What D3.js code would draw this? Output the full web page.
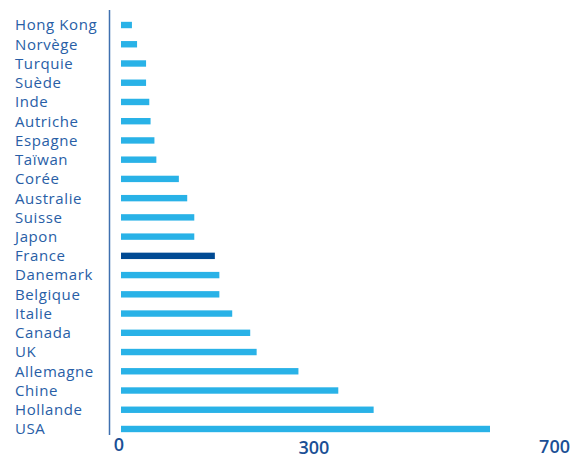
<!DOCTYPE html>
<html>
<head>
<meta charset="utf-8">
<script src="https://cdn.jsdelivr.net/npm/d3@7"></script>
<style>
  html, body { margin: 0; padding: 0; background: #fff; }
  svg { display: block; }
</style>
</head>
<body>
<svg id="chart" width="571" height="459"></svg>
<script>
const countries = ["Hong Kong","Norvège","Turquie","Suède","Inde","Autriche","Espagne","Taïwan","Corée","Australie","Suisse","Japon","France","Danemark","Belgique","Italie","Canada","UK","Allemagne","Chine","Hollande","USA"];
const values = [17, 25, 39, 39, 44, 46, 52, 55, 90, 103, 114, 114, 146, 153, 153, 173, 201, 211, 276, 338, 393, 574];
const highlight = ["France"];
const tickValues = [0, 300, 700];
const tickLabels = ["0", "300", "700"];

const svg = d3.select("#chart");
const x = d3.scaleLinear().domain([0, 700]).range([121, 571]);
const y = d3.scaleBand().domain(countries).range([15.4, 438.6]).paddingInner(0.66).paddingOuter(0.33);

const data = countries.map((c, i) => ({ c, v: values[i] }));

svg.append("g").selectAll("rect").data(data).join("rect")
  .attr("x", x(0))
  .attr("y", d => y(d.c) + y.bandwidth() / 2 - 3.2)
  .attr("width", d => x(d.v) - x(0))
  .attr("height", 6.4)
  .attr("fill", d => highlight.includes(d.c) ? "#004a93" : "#29b2e7");

svg.append("g").selectAll("text").data(data).join("text")
  .attr("x", 15)
  .attr("y", d => y(d.c) + y.bandwidth() / 2)
  .attr("dy", "0.36em")
  .attr("font-family", "'Open Sans', sans-serif")
  .attr("font-size", 15)
  .attr("letter-spacing", 0.6)
  .attr("fill", "#285ea6")
  .text(d => d.c);

svg.append("line")
  .attr("x1", 109.5).attr("x2", 109.5)
  .attr("y1", 10).attr("y2", 435)
  .attr("stroke", "#3f70b0").attr("stroke-width", 1.5);

const tickY = [451, 454, 453];
const tickAnchor = ["middle", "middle", "end"];
const tickDx = [-2, 0, -1];
svg.append("g").selectAll("text").data(tickValues).join("text")
  .attr("x", (d, i) => x(d) + tickDx[i])
  .attr("y", (d, i) => tickY[i])
  .attr("text-anchor", (d, i) => tickAnchor[i])
  .attr("font-family", "'Open Sans', sans-serif")
  .attr("font-size", 18)
  .attr("font-weight", 600)
  .attr("fill", "#1a4f95")
  .text((d, i) => tickLabels[i]);
</script>
</body>
</html>
